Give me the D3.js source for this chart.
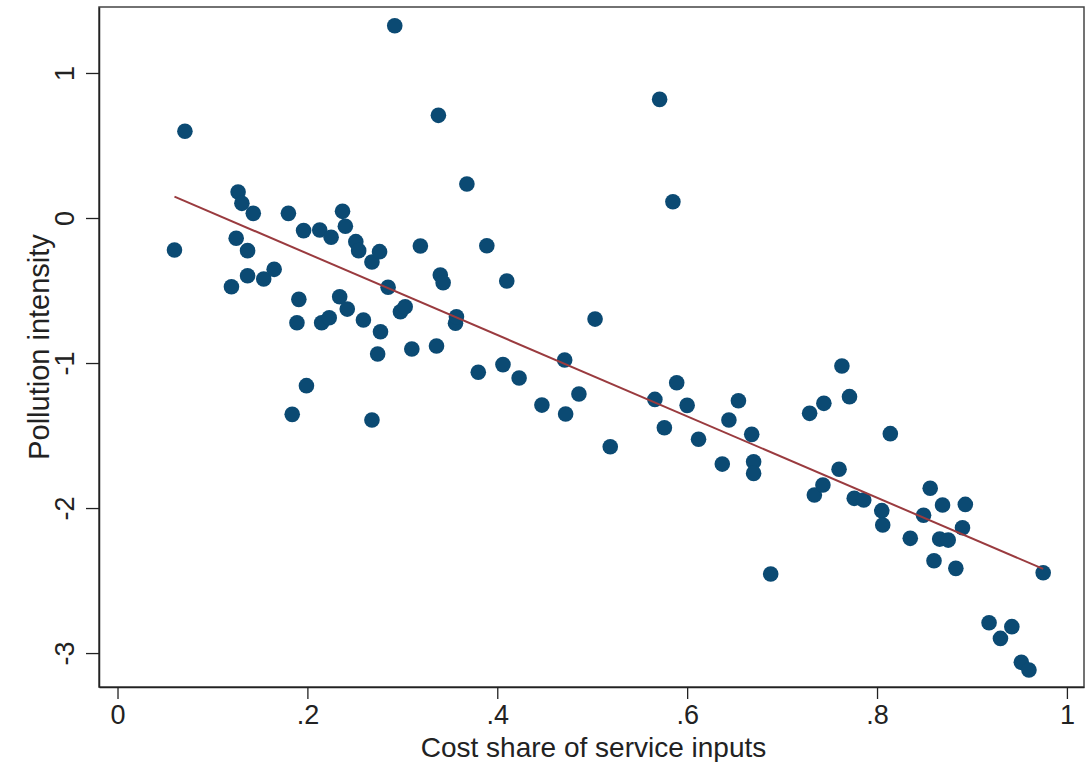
<!DOCTYPE html>
<html>
<head>
<meta charset="utf-8">
<script src="https://cdn.jsdelivr.net/npm/d3@7"></script>
<style>
  body { margin: 0; background: #fff; }
  text { font-family: "Liberation Sans", Arial, sans-serif; fill: #222; }
</style>
</head>
<body>
<div id="chart"></div>
<script>
// cost share of service inputs (x) and pollution intensity (y)
var costShare = [0.060, 0.071, 0.120, 0.125, 0.127, 0.131, 0.137, 0.137, 0.143, 0.154,
  0.165, 0.180, 0.184, 0.189, 0.191, 0.196, 0.199, 0.213, 0.215, 0.223,
  0.225, 0.234, 0.237, 0.240, 0.242, 0.251, 0.254, 0.259, 0.268, 0.268,
  0.274, 0.276, 0.277, 0.285, 0.292, 0.298, 0.303, 0.310, 0.319, 0.336,
  0.338, 0.340, 0.343, 0.356, 0.357, 0.368, 0.380, 0.389, 0.406, 0.410,
  0.423, 0.447, 0.471, 0.472, 0.486, 0.503, 0.519, 0.566, 0.571, 0.576,
  0.585, 0.589, 0.600, 0.612, 0.637, 0.644, 0.654, 0.668, 0.670, 0.670,
  0.688, 0.729, 0.734, 0.743, 0.744, 0.760, 0.763, 0.771, 0.776, 0.786,
  0.805, 0.806, 0.814, 0.835, 0.849, 0.856, 0.860, 0.866, 0.869, 0.875,
  0.883, 0.890, 0.893, 0.918, 0.930, 0.942, 0.952, 0.960, 0.975];
var pollution = [-0.221, 0.598, -0.474, -0.140, 0.179, 0.101, -0.225, -0.398, 0.032, -0.421,
  -0.354, 0.032, -1.354, -0.722, -0.561, -0.087, -1.156, -0.083, -0.722, -0.688,
  -0.133, -0.543, 0.046, -0.057, -0.628, -0.163, -0.225, -0.703, -0.303, -1.393,
  -0.938, -0.232, -0.784, -0.478, 1.326, -0.646, -0.612, -0.903, -0.193, -0.883,
  0.708, -0.393, -0.446, -0.726, -0.681, 0.234, -1.064, -0.191, -1.011, -0.434,
  -1.103, -1.290, -0.979, -1.352, -1.214, -0.697, -1.577, -1.251, 0.818, -1.446,
  0.112, -1.136, -1.292, -1.526, -1.697, -1.393, -1.260, -1.492, -1.681, -1.761,
  -2.455, -1.347, -1.910, -1.841, -1.278, -1.733, -1.021, -1.232, -1.933, -1.945,
  -2.018, -2.117, -1.487, -2.209, -2.050, -1.864, -2.363, -2.214, -1.979, -2.221,
  -2.416, -2.136, -1.975, -2.791, -2.899, -2.818, -3.064, -3.117, -2.446];

var xTicks = [0, 0.2, 0.4, 0.6, 0.8, 1];
var xTickLabels = ["0", ".2", ".4", ".6", ".8", "1"];
var yTicks = [-3, -2, -1, 0, 1];
var yTickLabels = ["-3", "-2", "-1", "0", "1"];

var width = 1091, height = 762;
var frame = {left: 99, right: 1084, top: 7, bottom: 687};

var svg = d3.select('#chart').append('svg').attr('width', width).attr('height', height);

var x = d3.scaleLinear().domain([-0.0195, 1.018]).range([frame.left, frame.right]);
var y = d3.scaleLinear().domain([-3.234, 1.455]).range([frame.bottom, frame.top]);

// plot region frame
svg.append('rect')
  .attr('x', frame.left).attr('y', frame.top)
  .attr('width', frame.right - frame.left).attr('height', frame.bottom - frame.top)
  .attr('fill', 'none').attr('stroke', '#444').attr('stroke-width', 1.5);

// axes
var xAxis = d3.axisBottom(x).tickValues(xTicks).tickSize(12).tickSizeOuter(0).tickPadding(6)
  .tickFormat(function (d, i) { return xTickLabels[i]; });
var gx = svg.append('g').attr('transform', 'translate(0,' + frame.bottom + ')').call(xAxis);
gx.select('.domain').attr('stroke', '#222').attr('stroke-width', 1.5);
gx.selectAll('.tick line').attr('stroke', '#222').attr('stroke-width', 1.3);
gx.selectAll('.tick text').attr('font-size', 27).attr('font-family', null);

var yAxis = d3.axisLeft(y).tickValues(yTicks).tickSize(13).tickSizeOuter(0).tickPadding(0)
  .tickFormat(function (d, i) { return yTickLabels[i]; });
var gy = svg.append('g').attr('transform', 'translate(' + frame.left + ',0)').call(yAxis);
gy.select('.domain').attr('stroke', '#222').attr('stroke-width', 1.5);
gy.selectAll('.tick line').attr('stroke', '#222').attr('stroke-width', 1.3);
gy.selectAll('.tick text')
  .attr('font-size', 27).attr('font-family', null)
  .attr('x', null).attr('dy', null)
  .attr('text-anchor', 'middle')
  .attr('transform', 'translate(-25,0) rotate(-90)')
  .attr('y', 0);

// axis titles
svg.append('text')
  .attr('x', (frame.left + frame.right) / 2 + 2)
  .attr('y', 757)
  .attr('text-anchor', 'middle')
  .attr('font-size', 28)
  .text('Cost share of service inputs');

svg.append('text')
  .attr('transform', 'translate(49,' + ((frame.top + frame.bottom) / 2) + ') rotate(-90)')
  .attr('text-anchor', 'middle')
  .attr('font-size', 29)
  .text('Pollution intensity');

// points
var pts = costShare.map(function (d, i) { return {x: d, y: pollution[i]}; });

svg.append('g').selectAll('circle')
  .data(pts)
  .enter()
  .append('circle')
  .attr('cx', function (d) { return x(d.x); })
  .attr('cy', function (d) { return y(d.y); })
  .attr('r', 7.8)
  .attr('fill', '#0b4a73');

// linear fit line
var mx = d3.mean(pts, function (d) { return d.x; });
var my = d3.mean(pts, function (d) { return d.y; });
var sxy = d3.sum(pts, function (d) { return (d.x - mx) * (d.y - my); });
var sxx = d3.sum(pts, function (d) { return (d.x - mx) * (d.x - mx); });
var slope = sxy / sxx;
var intercept = my - slope * mx;
var xr = d3.extent(costShare);
var fit = xr.map(function (v) { return {x: v, y: intercept + slope * v}; });

svg.append('path')
  .datum(fit)
  .attr('fill', 'none')
  .attr('stroke', '#9a3b3f')
  .attr('stroke-width', 2)
  .attr('d', d3.line().x(function (d) { return x(d.x); }).y(function (d) { return y(d.y); }));
</script>
</body>
</html>
